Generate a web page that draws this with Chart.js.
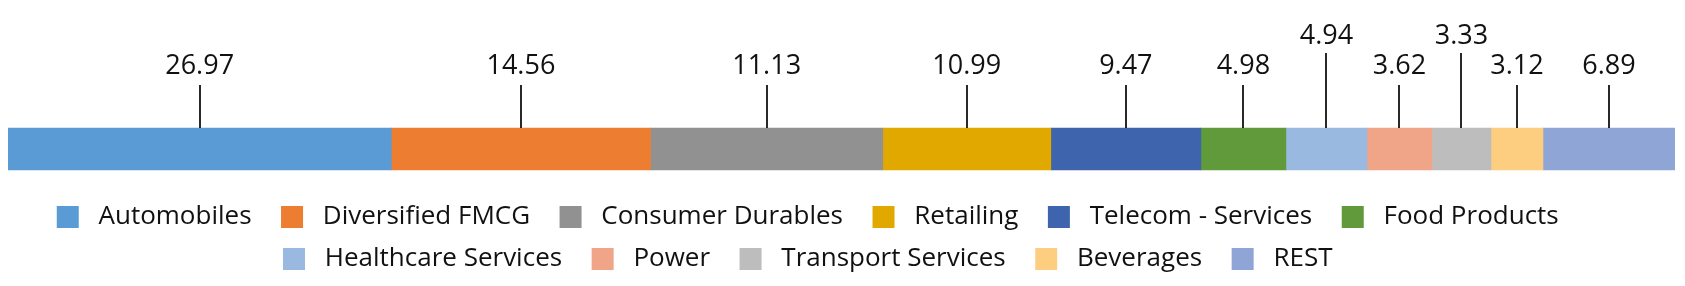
<!DOCTYPE html>
<html>
<head>
<meta charset="utf-8">
<script src="https://cdn.jsdelivr.net/npm/chart.js@4/dist/chart.umd.min.js"></script>
<style>
  html, body { margin: 0; padding: 0; background: #fff; }
  #wrap { width: 1685px; height: 286px; }
</style>
</head>
<body>
<div id="wrap"><canvas id="chart"></canvas></div>
<script>
// sectors in bar order
const sectors = ['Automobiles', 'Diversified FMCG', 'Consumer Durables', 'Retailing',
  'Telecom - Services', 'Food Products', 'Healthcare Services', 'Power',
  'Transport Services', 'Beverages', 'REST'];
// numbers printed above each segment
const labelValues = [26.97, 14.56, 11.13, 10.99, 9.47, 4.98, 4.94, 3.62, 3.33, 3.12, 6.89];
// segment lengths as drawn in the picture (share of the bar, %)
const segmentWidths = [22.99, 15.55, 13.93, 10.08, 9.00, 5.10, 4.86, 3.90, 3.54, 3.12, 7.92];
const colors = ['#5b9bd5', '#ed7d31', '#919191', '#e1a900', '#3d64ad', '#619a3b',
  '#9ab9e0', '#f0a488', '#bdbdbd', '#fece80', '#8ea5d5'];

const FONT = "'Open Sans', 'Noto Sans', sans-serif";

// callout labels with leader lines; crowded ones get lifted up a level
const callouts = {
  id: 'callouts',
  afterDatasetsDraw(chart) {
    const ctx = chart.ctx;
    ctx.save();
    ctx.font = '27px ' + FONT;
    ctx.fillStyle = '#111';
    ctx.strokeStyle = '#111';
    ctx.lineWidth = 1.8;
    ctx.textAlign = 'center';
    ctx.textBaseline = 'alphabetic';
    let lastLow = -Infinity;
    chart.data.datasets.forEach((ds, i) => {
      const bar = chart.getDatasetMeta(i).data[0];
      const cx = (bar.x + bar.base) / 2;
      const top = bar.y - bar.height / 2;
      const high = cx - lastLow < 88;
      if (!high) lastLow = cx;
      const lineTop = high ? top - 75 : top - 43;
      const baseY = high ? top - 84 : top - 54;
      ctx.beginPath();
      ctx.moveTo(Math.round(cx), top);
      ctx.lineTo(Math.round(cx), lineTop);
      ctx.stroke();
      ctx.fillText(labelValues[i].toFixed(2), cx, baseY);
    });
    ctx.restore();
  }
};

// the legend clips to its own box; give it room below the last row
// and nudge its centre a bit left like the original
const legendRoom = {
  id: 'legendRoom',
  afterLayout(chart) {
    const lg = chart.legend;
    lg.bottom = chart.height;
    lg.height = lg.bottom - lg.top;
    lg.right -= 54;
    lg.width = lg.right - lg.left;
  }
};

const total = segmentWidths.reduce((a, b) => a + b, 0);

new Chart(document.getElementById('chart'), {
  type: 'bar',
  data: {
    labels: ['Sectors'],
    datasets: sectors.map((name, i) => ({
      label: name,
      data: [segmentWidths[i]],
      backgroundColor: colors[i],
      borderWidth: 0,
      barThickness: 42
    }))
  },
  options: {
    indexAxis: 'y',
    responsive: true,
    maintainAspectRatio: false,
    animation: false,
    layout: { padding: { top: 110, left: 8, right: 10, bottom: 20 } },
    plugins: {
      tooltip: { enabled: false },
      legend: {
        position: 'bottom',
        labels: {
          color: '#111',
          font: { family: FONT, size: 26 },
          boxWidth: 22,
          boxHeight: 22,
          padding: 16,
          // a little extra room around each name, like the original legend
          generateLabels(chart) {
            const items = Chart.defaults.plugins.legend.labels.generateLabels(chart);
            items.forEach(it => { it.text = ' ' + it.text + '  '; });
            return items;
          }
        }
      }
    },
    scales: {
      x: { stacked: true, min: 0, max: total, display: false },
      y: { stacked: true, display: false }
    }
  },
  plugins: [callouts, legendRoom]
});
</script>
</body>
</html>
